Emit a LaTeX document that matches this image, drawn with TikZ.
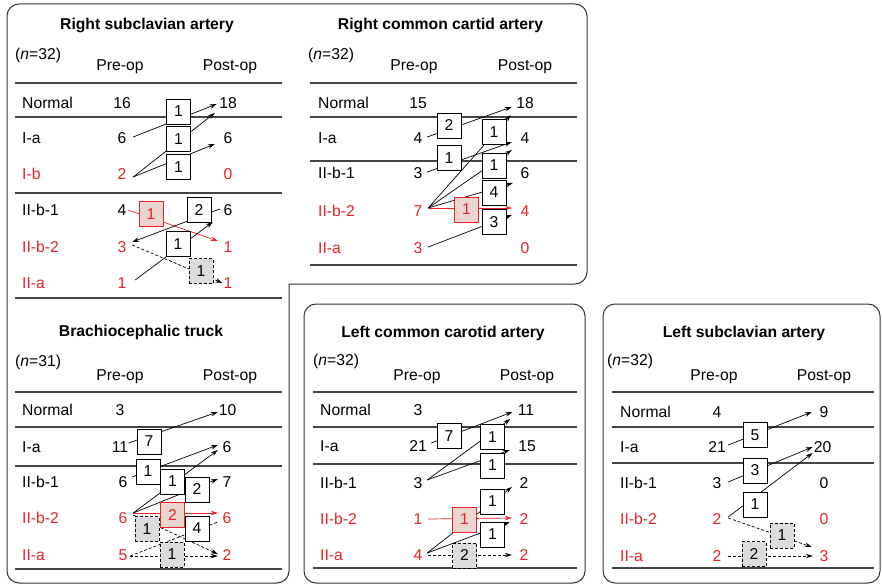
\documentclass[tikz,border=0pt]{standalone}
\usepackage{fontspec}
\setmainfont{Liberation Sans}
\usetikzlibrary{arrows.meta}
\definecolor{myred}{HTML}{E8212B}
\definecolor{pinkfill}{HTML}{EBD5CF}
\definecolor{grayfill}{HTML}{DCDCDE}
\definecolor{rulegray}{HTML}{444444}
\definecolor{framegray}{HTML}{333333}
\begin{document}
\begin{tikzpicture}[x=1pt,y=-1pt,font=\fontsize{15.7}{18}\selectfont,
 num/.style={inner sep=0pt},
 rnum/.style={inner sep=0pt,text=myred},
 lab/.style={anchor=west,inner sep=0pt},
 rlab/.style={lab,text=myred},
 ttl/.style={font=\fontsize{15.7}{18}\selectfont\bfseries,inner sep=0pt},
 nn/.style={anchor=base west,inner sep=0pt},
 hdr/.style={inner sep=0pt},
 rule/.style={draw=rulegray,line width=1.2pt},
 frame/.style={draw=framegray,line width=1pt,rounded corners=12pt},
 cbox/.style={draw=black,fill=white,line width=0.9pt,minimum width=24pt,minimum height=25pt,inner sep=0pt},
 rbox/.style={cbox,draw=myred,fill=pinkfill,text=myred},
 gbox/.style={cbox,fill=grayfill,dash pattern=on 3pt off 2pt},
 arr/.style={-{Stealth[length=7pt,width=4.5pt]},line width=0.7pt},
 darr/.style={arr,dash pattern=on 3pt off 2pt},
 dline/.style={line width=0.7pt,dash pattern=on 3pt off 2pt},
 rarr/.style={arr,color=myred},
]
\useasboundingbox (0,0) rectangle (882,585);
% frames
\draw[frame,line cap=rect] (289,284) -- (289,583) -- (7,583) -- (7,4) -- (587,4) -- (587,284) -- (289,284);
\draw[frame] (304,304) rectangle (585,583);
\draw[frame] (603,304) rectangle (880,583);

% ================= Panel 1: Right subclavian artery
\node[ttl] (a-title) at (147,25.2) {Right subclavian artery};
\node[nn] (a-n) at (15,60) {(\textit{n}=32)};
\node[hdr] (a-pre) at (120,66.7) {Pre-op};
\node[hdr] (a-post) at (230,66.7) {Post-op};
\foreach \yy in {83,117,193,298} \draw[rule] (15,\yy) -- (282,\yy);
\node[lab] (a-l1) at (22,103) {Normal};
\node[lab] (a-l2) at (22,138) {I-a};
\node[rlab] (a-l3) at (22,174) {I-b};
\node[lab] (a-l4) at (22,210) {II-b-1};
\node[rlab] (a-l5) at (22,247) {II-b-2};
\node[rlab] (a-l6) at (22,283) {II-a};
\node[num] (a-p1) at (122,103) {16};
\node[num] (a-p2) at (122,138) {6};
\node[rnum] (a-p3) at (122,174) {2};
\node[num] (a-p4) at (122,210) {4};
\node[rnum] (a-p5) at (122,247) {3};
\node[rnum] (a-p6) at (122,283) {1};
\node[num] (a-q1) at (228,103) {18};
\node[num] (a-q2) at (228,138) {6};
\node[rnum] (a-q3) at (228,174) {0};
\node[num] (a-q4) at (228,210) {6};
\node[rnum] (a-q5) at (228,247) {1};
\node[rnum] (a-q6) at (228,283) {1};
\draw[arr] ([shift={(6.6,-1)}]a-p2.east) -- ([shift={(-2.3,1)}]a-q1.west);
\draw[arr] ([shift={(6.6,3)}]a-p3.east) -- ([shift={(-4.3,10)}]a-q1.west);
\draw[arr] ([shift={(6.6,3)}]a-p3.east) -- ([shift={(-8.6,6)}]a-q2.west);
\draw[rarr] ([shift={(1.6,0)}]a-p4.east) -- ([shift={(-5.6,-6)}]a-q5.west);
\draw[arr] ([shift={(-3.6,-1)}]a-q4.west) -- ([shift={(5.6,-5)}]a-p5.east);
\draw[arr] ([shift={(8.6,-3)}]a-p6.east) -- ([shift={(-10.6,12)}]a-q4.west);
\draw[darr] ([shift={(5.6,-2)}]a-p5.east) -- ([shift={(-1,0)}]a-q6.west);
\node[cbox] (a-b1) at (178.5,111.5) {1};
\node[cbox] (a-b2) at (178.5,139) {1};
\node[cbox] (a-b3) at (178.5,167) {1};
\node[rbox] (a-b4) at (151,214) {1};
\node[cbox] (a-b5) at (199,210) {2};
\node[cbox] (a-b6) at (178,244) {1};
\node[gbox] (a-b7) at (201,271) {1};

% ================= Panel 2: Right common cartid artery
\node[ttl] (b-title) at (440.5,25.2) {Right common cartid artery};
\node[nn] (b-n) at (308,60) {(\textit{n}=32)};
\node[hdr] (b-pre) at (414,66.7) {Pre-op};
\node[hdr] (b-post) at (525,66.7) {Post-op};
\foreach \yy in {83,117,161,265} \draw[rule] (310,\yy) -- (577,\yy);
\node[lab] (b-l1) at (318,103) {Normal};
\node[lab] (b-l2) at (318,138) {I-a};
\node[lab] (b-l3) at (318,173) {II-b-1};
\node[rlab] (b-l4) at (318,211) {II-b-2};
\node[rlab] (b-l5) at (318,248) {II-a};
\node[num] (b-p1) at (418,103) {15};
\node[num] (b-p2) at (418,138) {4};
\node[num] (b-p3) at (418,173) {3};
\node[rnum] (b-p4) at (418,211) {7};
\node[rnum] (b-p5) at (418,248) {3};
\node[num] (b-q1) at (525,103) {18};
\node[num] (b-q2) at (525,138) {4};
\node[num] (b-q3) at (525,173) {6};
\node[rnum] (b-q4) at (525,211) {4};
\node[rnum] (b-q5) at (525,248) {0};
\draw[arr] ([shift={(4.6,-1)}]b-p2.east) -- ([shift={(-4.3,4)}]b-q1.west);
\draw[arr] ([shift={(4.6,-1)}]b-p3.east) -- ([shift={(-8.6,4)}]b-q2.west);
\draw[arr] ([shift={(5.6,-3)}]b-p4.east) -- ([shift={(-5.3,12)}]b-q1.west);
\draw[arr] ([shift={(5.6,-3)}]b-p4.east) -- ([shift={(-8.6,12)}]b-q2.west);
\draw[arr] ([shift={(5.6,-3)}]b-p4.east) -- ([shift={(-7.6,10)}]b-q3.west);
\draw[rarr] ([shift={(5.6,-3)}]b-p4.east) -- ([shift={(-8.6,-3)}]b-q4.west);
\draw[arr] ([shift={(5.6,-1)}]b-p5.east) -- ([shift={(-8.6,4)}]b-q4.west);
\node[cbox] (b-b1) at (449,125.5) {2};
\node[cbox] (b-b2) at (449,158) {1};
\node[cbox] (b-b3) at (494,132) {1};
\node[cbox] (b-b4) at (494,165.5) {1};
\node[cbox] (b-b5) at (494,192.5) {4};
\node[rbox] (b-b6) at (466.5,209.5) {1};
\node[cbox] (b-b7) at (494,222) {3};

% ================= Panel 3: Brachiocephalic truck
\node[ttl] (c-title) at (141,332.6) {Brachiocephalic truck};
\node[nn] (c-n) at (15,366) {(\textit{n}=31)};
\node[hdr] (c-pre) at (120,376.7) {Pre-op};
\node[hdr] (c-post) at (230,376.7) {Post-op};
\foreach \yy in {392,427,466,569} \draw[rule] (15,\yy) -- (282,\yy);
\node[lab] (c-l1) at (22,410) {Normal};
\node[lab] (c-l2) at (22,447) {I-a};
\node[lab] (c-l3) at (22,482) {II-b-1};
\node[rlab] (c-l4) at (22,518) {II-b-2};
\node[rlab] (c-l5) at (22,555) {II-a};
\node[num] (c-p1) at (120,410) {3};
\node[num] (c-p2) at (120,447) {11};
\node[num] (c-p3) at (123,482) {6};
\node[rnum] (c-p4) at (123,518) {6};
\node[rnum] (c-p5) at (123,555) {5};
\node[num] (c-q1) at (227.5,410) {10};
\node[num] (c-q2) at (227,447) {6};
\node[num] (c-q3) at (227,482) {7};
\node[rnum] (c-q4) at (227,518) {6};
\node[rnum] (c-q5) at (227,555) {2};
\draw[arr] ([shift={(0.3,-4)}]c-p2.east) -- ([shift={(-0.8,2)}]c-q1.west);
\draw[arr] ([shift={(4.6,-5)}]c-p3.east) -- ([shift={(-4.6,-2)}]c-q2.west);
\draw[arr] ([shift={(5.6,-5)}]c-p4.east) -- ([shift={(-4.6,3)}]c-q2.west);
\draw[arr] ([shift={(5.6,-5)}]c-p4.east) -- ([shift={(-4.6,-3)}]c-q3.west);
\draw[rarr] ([shift={(5.6,-5)}]c-p4.east) -- ([shift={(-4.6,-5)}]c-q4.west);
\draw[darr] ([shift={(5.6,-3)}]c-p4.east) -- ([shift={(-4.6,-1)}]c-q5.west);
\draw[dline] ([shift={(2.6,1)}]c-p5.east) -- ([shift={(-4.6,4)}]c-q4.west);
\draw[darr] ([shift={(2.6,1)}]c-p5.east) -- ([shift={(-4.6,1)}]c-q5.west);
\node[cbox] (c-b1) at (149,441.5) {7};
\node[cbox] (c-b2) at (148,471.5) {1};
\node[cbox] (c-b3) at (172.5,481.5) {1};
\node[cbox] (c-b4) at (197,489.5) {2};
\node[rbox] (c-b5) at (172.5,515) {2};
\node[gbox] (c-b6) at (147,529) {1};
\node[cbox] (c-b7) at (197,528.5) {4};
\node[gbox] (c-b8) at (172,554.5) {1};

% ================= Panel 4: Left common carotid artery
\node[ttl] (d-title) at (443,333.2) {Left common carotid artery};
\node[nn] (d-n) at (313,365) {(\textit{n}=32)};
\node[hdr] (d-pre) at (417,376.7) {Pre-op};
\node[hdr] (d-post) at (527,376.7) {Post-op};
\foreach \yy in {392,427,464,568} \draw[rule] (313,\yy) -- (577,\yy);
\node[lab] (d-l1) at (320,410) {Normal};
\node[lab] (d-l2) at (320,446) {I-a};
\node[lab] (d-l3) at (320,483) {II-b-1};
\node[rlab] (d-l4) at (320,519) {II-b-2};
\node[rlab] (d-l5) at (320,555) {II-a};
\node[num] (d-p1) at (418,410) {3};
\node[num] (d-p2) at (418,446) {21};
\node[num] (d-p3) at (418,483) {3};
\node[rnum] (d-p4) at (418,519) {1};
\node[rnum] (d-p5) at (418,555) {4};
\node[num] (d-q1) at (526,410) {11};
\node[num] (d-q2) at (527,446) {15};
\node[num] (d-q3) at (524,483) {2};
\node[rnum] (d-q4) at (524,519) {2};
\node[rnum] (d-q5) at (524,555) {2};
\draw[arr] ([shift={(4.3,-3)}]d-p2.east) -- ([shift={(-5.3,2)}]d-q1.west);
\draw[arr] ([shift={(4.6,-3)}]d-p3.east) -- ([shift={(-7.3,9)}]d-q1.west);
\draw[arr] ([shift={(4.6,-3)}]d-p3.east) -- ([shift={(-8.3,4)}]d-q2.west);
\draw[rarr] ([shift={(5.6,0)}]d-p4.east) -- ([shift={(-7.6,-1)}]d-q4.west);
\draw[arr] ([shift={(4.6,-2)}]d-p5.east) -- ([shift={(-7.6,4)}]d-q3.west);
\draw[arr] ([shift={(4.6,-2)}]d-p5.east) -- ([shift={(-9.6,3)}]d-q4.west);
\draw[darr] ([shift={(5.6,0)}]d-p5.east) -- ([shift={(-7.6,0)}]d-q5.west);
\node[cbox] (d-b1) at (449,436) {7};
\node[cbox] (d-b2) at (492.5,437) {1};
\node[cbox] (d-b3) at (492.5,465.5) {1};
\node[cbox] (d-b4) at (492.5,501.5) {1};
\node[rbox] (d-b5) at (464.5,519.5) {1};
\node[cbox] (d-b6) at (492.5,534.5) {1};
\node[gbox] (d-b7) at (464.5,555.5) {2};

% ================= Panel 5: Left subclavian artery
\node[ttl] (e-title) at (744,333.2) {Left subclavian artery};
\node[nn] (e-n) at (607,365) {(\textit{n}=32)};
\node[hdr] (e-pre) at (714,376.7) {Pre-op};
\node[hdr] (e-post) at (824,376.7) {Post-op};
\foreach \yy in {392,427,463,568} \draw[rule] (612,\yy) -- (874,\yy);
\node[lab] (e-l1) at (620,412) {Normal};
\node[lab] (e-l2) at (620,447) {I-a};
\node[lab] (e-l3) at (620,483) {II-b-1};
\node[rlab] (e-l4) at (620,519) {II-b-2};
\node[rlab] (e-l5) at (620,556) {II-a};
\node[num] (e-p1) at (717,412) {4};
\node[num] (e-p2) at (717,447) {21};
\node[num] (e-p3) at (717,483) {3};
\node[rnum] (e-p4) at (717,519) {2};
\node[rnum] (e-p5) at (717,556) {2};
\node[num] (e-q1) at (824,412) {9};
\node[num] (e-q2) at (822.5,447) {20};
\node[num] (e-q3) at (824,483) {0};
\node[rnum] (e-q4) at (824,519) {0};
\node[rnum] (e-q5) at (824,556) {3};
\draw[arr] ([shift={(2.3,-2)}]e-p2.east) -- ([shift={(-7.6,0)}]e-q1.west);
\draw[arr] ([shift={(6.6,-1)}]e-p3.east) -- ([shift={(-1,0)}]e-q2.west);
\draw[arr] ([shift={(6.6,-2)}]e-p4.east) -- ([shift={(-1,6)}]e-q2.west);
\draw[darr] ([shift={(6.6,-1)}]e-p4.east) -- ([shift={(-7.6,-9)}]e-q5.west);
\draw[darr] ([shift={(6.6,0)}]e-p5.east) -- ([shift={(-6.6,0)}]e-q5.west);
\node[cbox] (e-b1) at (755,435) {5};
\node[cbox] (e-b2) at (755,470.5) {3};
\node[cbox] (e-b3) at (755,504.5) {1};
\node[gbox] (e-b4) at (782,535.5) {1};
\node[gbox] (e-b5) at (754,554) {2};
\end{tikzpicture}
\end{document}
